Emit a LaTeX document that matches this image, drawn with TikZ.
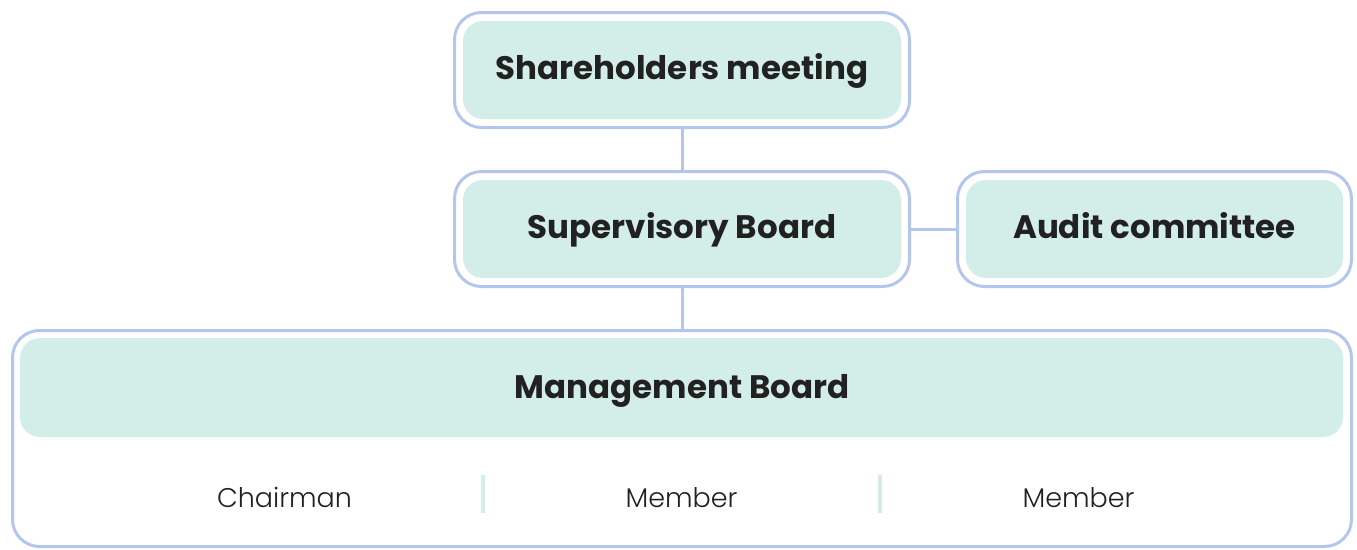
\documentclass[tikz,border=0pt]{standalone}
\usepackage{fontspec}
\setmainfont{Poppins}
\newfontfamily\lightfont{Poppins Light}
\definecolor{frame}{HTML}{B5C6EE}
\definecolor{panel}{HTML}{D3EEE8}
\definecolor{ink}{HTML}{212121}
\tikzset{
  outerbox/.style={draw=frame, line width=3pt, fill=white, rounded corners=27pt,
    inner sep=0pt, outer sep=0pt, minimum width=#1},
  innerbox/.style={fill=panel, rounded corners=20pt, inner sep=0pt, outer sep=0pt,
    minimum width=#1},
  title/.style={anchor=base, inner sep=0pt, text=ink,
    font=\fontsize{32.5}{38}\selectfont\bfseries},
  link/.style={draw=frame, line width=3pt},
  member/.style={anchor=base, text=ink, font=\lightfont\fontsize{27}{32}\selectfont, inner sep=0pt},
  divider/.style={draw=panel, line width=4pt}
}
\begin{document}
\begin{tikzpicture}[x=1pt, y=-1pt]
  \useasboundingbox (0,0) rectangle (1357,549);
  % frames
  \node[outerbox=455pt, minimum height=115pt] (sh)  at (682,70)     {};
  \node[outerbox=455pt, minimum height=115pt] (sup) at (682,229)    {};
  \node[outerbox=394pt, minimum height=115pt] (aud) at (1154.5,229) {};
  \node[outerbox=1339pt, minimum height=216pt] (mb) at (682,438.5)  {};
  % connectors
  \draw[link] (sh.south) -- (sup.north);
  \draw[link] (sup.east) -- (aud.west);
  \draw[link] (sup.south) -- (mb.north);
  % filled title panels
  \node[innerbox=438pt, minimum height=98pt] (shP)  at (682,70)      {};
  \node[innerbox=438pt, minimum height=98pt] (supP) at (682,229)     {};
  \node[innerbox=377pt, minimum height=98pt] (audP) at (1154.5,229)  {};
  \node[innerbox=1323pt, minimum height=99pt] (mbP) at (681.5,387.5) {};
  % titles, set on a common baseline
  \node[title] (shT)  at (682,79)     {Shareholders meeting};
  \node[title] (supT) at (682,238)    {Supervisory Board};
  \node[title] (audT) at (1154.5,238) {Audit committee};
  \node[title] (mbT)  at (682,398)    {Management Board};
  % board members
  \node[member] (m1) at (284.5,507)  {Chairman};
  \node[member] (m2) at (681.5,507)  {Member};
  \node[member] (m3) at (1078.5,507) {Member};
  \coordinate (d1a) at (483,475); \coordinate (d1b) at (483,513);
  \coordinate (d2a) at (880,475); \coordinate (d2b) at (880,513);
  \draw[divider] (d1a) -- (d1b);
  \draw[divider] (d2a) -- (d2b);
\end{tikzpicture}
\end{document}
